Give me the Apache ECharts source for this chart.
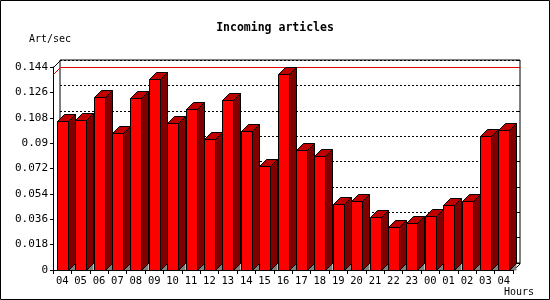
<!DOCTYPE html>
<html><head><meta charset="utf-8">
<script src="https://cdn.jsdelivr.net/npm/echarts@6/dist/echarts.min.js"></script>
<style>html,body{margin:0;padding:0;background:#fff}#c{width:550px;height:300px}</style>
</head><body><div id="c"></div>
<script>
const chartTitle = 'Incoming articles';
const yAxisTitle = 'Art/sec';
const xAxisTitle = 'Hours';
const hours = ['04','05','06','07','08','09','10','11','12','13','14','15','16','17','18','19','20','21','22','23','00','01','02','03','04'];
const artPerSec = [0.1055,0.1062,0.1225,0.0972,0.1218,0.1353,0.1043,0.1140,0.0929,0.1204,0.0986,0.0736,0.1390,0.0851,0.0806,0.0468,0.0487,0.0374,0.0303,0.0333,0.0381,0.0461,0.0487,0.0948,0.0991];
const yTickLabels = ['0','0.018','0.036','0.054','0.072','0.09','0.108','0.126','0.144'];
const yMin = 0, yMax = 0.144, yStep = 0.018;

const FONT = 'DejaVu Sans Mono';
const D = 7; // 3D depth in px
const maxVal = Math.max(...artPerSec);

function barItem(params, api) {
  const i = api.value(0), v = api.value(1);
  const top = api.coord([i, v]);
  const base = api.coord([i, 0]);
  const xl = Math.round(top[0] - 5.5) + 0.5;
  const xr = xl + 11;
  const yt = Math.round(top[1]) + 0.5;
  const yb = Math.round(base[1]) + 0.5;
  const blk = {stroke: '#000', lineWidth: 1};
  return {
    type: 'group',
    children: [
      {type: 'polygon', shape: {points: [[xr, yb], [xr + D, yb - D], [xr + D, yb]]}, style: {fill: '#808080'}},
      {type: 'polygon', shape: {points: [[xr, yt], [xr + D, yt - D], [xr + D, yb - D], [xr, yb]]}, style: Object.assign({fill: '#800000'}, blk)},
      {type: 'polygon', shape: {points: [[xl, yt], [xl + D, yt - D], [xr + D, yt - D], [xr, yt]]}, style: Object.assign({fill: '#c00000'}, blk)},
      {type: 'rect', shape: {x: xl, y: yt, width: xr - xl, height: yb - yt}, style: Object.assign({fill: '#ff0000'}, blk)}
    ]
  };
}

function frameItem(params, api) {
  const cs = params.coordSys;
  const y = Math.round(api.coord([0, api.value(1)])[1]) + 0.5;
  const x0 = Math.round(cs.x) + 0.5, y0 = Math.round(cs.y) + 0.5;
  const x1 = Math.round(cs.x + cs.width) + 0.5, y1 = Math.round(cs.y + cs.height) + 0.5;
  return {
    type: 'group',
    children: [
      {type: 'polyline', shape: {points: [[x0 - D, y + D], [x0, y], [x1, y]]}, style: {stroke: '#e00000', lineWidth: 1, fill: null}},
      {type: 'line', shape: {x1: x0 - D, y1: y0 + D, x2: x0, y2: y0}, style: {stroke: '#000', lineWidth: 1}},
      {type: 'line', shape: {x1: x1, y1: y1, x2: x1 - D, y2: y1 + D}, style: {stroke: '#000', lineWidth: 1}}
    ]
  };
}

const chart = echarts.init(document.getElementById('c'), null, {renderer: 'canvas'});
chart.setOption({
  animation: false,
  backgroundColor: '#fff',
  title: {
    text: chartTitle, left: 'center', top: 22, padding: 0,
    textStyle: {fontFamily: FONT, fontSize: 11.5, fontWeight: 'bold', color: '#000'}
  },
  grid: [
    {left: 53, top: 67, width: 460, height: 203, show: false},
    {left: 60, top: 60, width: 460, height: 203, show: true, borderColor: '#000', borderWidth: 1, backgroundColor: '#fff', z: 0}
  ],
  xAxis: [
    {type: 'category', gridIndex: 0, data: hours, boundaryGap: true,
     axisLine: {show: true, lineStyle: {color: '#000', width: 1}},
     axisTick: {show: true, length: 4, lineStyle: {color: '#000'}},
     axisLabel: {color: '#000', fontFamily: FONT, fontSize: 10.5, margin: 6, interval: 0},
     z: 10},
    {type: 'category', gridIndex: 1, data: hours, show: false}
  ],
  yAxis: [
    {type: 'value', gridIndex: 0, min: yMin, max: yMax, interval: yStep,
     axisLine: {show: true, lineStyle: {color: '#000', width: 1}},
     axisTick: {show: true, length: 3, lineStyle: {color: '#000'}},
     axisLabel: {color: '#000', fontFamily: FONT, fontSize: 11, margin: 5,
                 formatter: v => yTickLabels[Math.round(v / yStep)]},
     splitLine: {show: false}},
    {type: 'value', gridIndex: 1, min: yMin, max: yMax, interval: yStep, position: 'right',
     axisLine: {show: false},
     axisTick: {show: true, inside: true, length: 2, lineStyle: {color: '#000'}},
     axisLabel: {show: false},
     splitLine: {show: true, lineStyle: {color: '#000', width: 1, type: [2, 2]}}}
  ],
  series: [
    {type: 'custom', xAxisIndex: 1, yAxisIndex: 1, data: [[0, maxVal]], renderItem: frameItem, z: 1, silent: true},
    {type: 'custom', xAxisIndex: 0, yAxisIndex: 0, data: artPerSec.map((v, i) => [i, v]), renderItem: barItem, z: 5, silent: true}
  ],
  graphic: [
    {type: 'text', x: 29, y: 39, style: {text: yAxisTitle, font: '10px "DejaVu Sans Mono"', fill: '#000', textVerticalAlign: 'middle', verticalAlign: 'middle'}},
    {type: 'text', x: 504, y: 292, style: {text: xAxisTitle, font: '10px "DejaVu Sans Mono"', fill: '#000', textVerticalAlign: 'middle', verticalAlign: 'middle'}},
    {type: 'rect', shape: {x: 0.5, y: 0.5, width: 549, height: 299}, style: {fill: null, stroke: '#000', lineWidth: 1}, z: 100}
  ]
});
</script></body></html>
